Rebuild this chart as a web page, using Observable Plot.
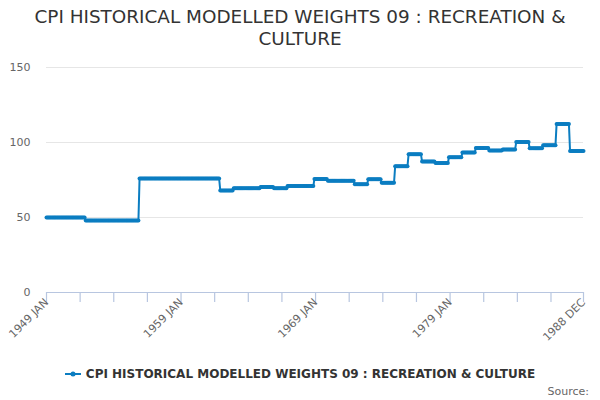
<!DOCTYPE html>
<html>
<head>
<meta charset="utf-8">
<script src="https://cdn.jsdelivr.net/npm/d3@7"></script>
<script src="https://cdn.jsdelivr.net/npm/@observablehq/plot@0.6"></script>
<style>
  html, body { margin: 0; padding: 0; background: #fff; }
  #wrap { position: relative; width: 600px; height: 400px; font-family: "DejaVu Sans", sans-serif; overflow: hidden; }
  #title { position: absolute; top: 6px; left: 0; width: 600px; text-align: center; font-size: 18.4px; line-height: 22px; color: #333; }
  #chart { position: absolute; top: 50px; left: 0; }
  #legend { position: absolute; top: 367px; left: 0; width: 600px; display: flex; justify-content: center; align-items: center; font-size: 12px; font-weight: bold; color: #333; }
  #legend svg { margin-right: 5px; }
  #source { position: absolute; top: 385px; right: 11px; font-size: 11px; color: #666; }
</style>
</head>
<body>
<div id="wrap">
  <div id="title">CPI HISTORICAL MODELLED WEIGHTS 09 : RECREATION &amp;<br>CULTURE</div>
  <div id="chart"></div>
  <div id="legend"></div>
  <div id="source">Source:</div>
</div>
<script>
// ---- data ----
const seriesName = "CPI HISTORICAL MODELLED WEIGHTS 09 : RECREATION & CULTURE";
const monthNames = ["JAN","FEB","MAR","APR","MAY","JUN","JUL","AUG","SEP","OCT","NOV","DEC"];
const firstMonth = "1949-01";
const lastMonth = "1988-12";
// start month of each weight period and its value
const periodStarts = ["1949-01","1951-12","1955-12","1961-12","1962-12","1963-12","1964-12","1965-12",
  "1966-12","1967-12","1968-12","1969-12","1970-12","1971-12","1972-12","1973-12","1974-12","1975-12",
  "1976-12","1977-12","1978-12","1979-12","1980-12","1981-12","1982-12","1983-12","1984-12","1985-12",
  "1986-12","1987-12"];
const periodValues = [50, 48, 76, 68, 69.5, 69.5, 70.4, 69.5,
  71, 71, 75.6, 74.5, 74.5, 72.2, 75.5, 73.2, 84.2, 92.2,
  87.3, 86.3, 90.2, 93.4, 96.3, 94.6, 95.4, 100.3, 96.2, 98.1,
  112.4, 94.3];
const yTicks = [0, 50, 100, 150];
const xLabelMonths = ["1949-01","1959-01","1969-01","1979-01","1988-12"];
const xTickStep = 30; // months between axis ticks

// ---- build monthly table ----
const toIdx = s => { const [y, m] = s.split("-").map(Number); return (y - 1949) * 12 + (m - 1); };
const idxLabel = i => `${1949 + Math.floor(i / 12)} ${monthNames[i % 12]}`;
const n = toIdx(lastMonth) - toIdx(firstMonth) + 1;
const startIdx = periodStarts.map(toIdx);
const rows = d3.range(n).map(i => {
  const p = d3.bisectRight(startIdx, i) - 1;
  return {i, label: idxLabel(i), value: periodValues[p]};
});
const minorTicks = d3.range(0, n, xTickStep).concat([n - 1]);
const labelTicks = xLabelMonths.map(toIdx);
const color = "#0b7dc1";
const axisColor = "#b8c6e0";

const chart = Plot.plot({
  width: 600,
  height: 310,
  marginLeft: 46,
  marginRight: 17,
  marginTop: 17,
  marginBottom: 68,
  style: {fontFamily: "DejaVu Sans, sans-serif", fontSize: "11px", background: "white", overflow: "visible"},
  x: {domain: [0, n - 1]},
  y: {domain: [0, 150]},
  marks: [
    Plot.gridY(yTicks.filter(d => d > 0), {stroke: "#e6e6e6", strokeOpacity: 1}),
    Plot.axisY(yTicks, {tickSize: 0, tickPadding: 16, fill: "#666", fontSize: 11, label: null}),
    Plot.axisX(minorTicks, {tickSize: 10, stroke: axisColor, strokeOpacity: 1, strokeWidth: 1.2, color: axisColor, tickFormat: () => "", label: null}),
    Plot.axisX(labelTicks, {tickSize: 0, tickPadding: 8, tickRotate: -45, fill: "#666", fontSize: 11, tickFormat: idxLabel, label: null}),
    Plot.ruleY([0], {stroke: axisColor, strokeOpacity: 1, strokeWidth: 1.2}),
    Plot.line(rows, {x: "i", y: "value", stroke: color, strokeWidth: 2}),
    Plot.dot(rows, {x: "i", y: "value", r: 2, fill: color, stroke: "none"})
  ]
});
document.getElementById("chart").appendChild(chart);

// legend
const leg = document.getElementById("legend");
leg.innerHTML = `<svg width="16" height="10"><line x1="0" x2="16" y1="5" y2="5" stroke="${color}" stroke-width="2"/><circle cx="8" cy="5" r="2.5" fill="${color}"/></svg><span></span>`;
leg.querySelector("span").textContent = seriesName;
</script>
</body>
</html>
